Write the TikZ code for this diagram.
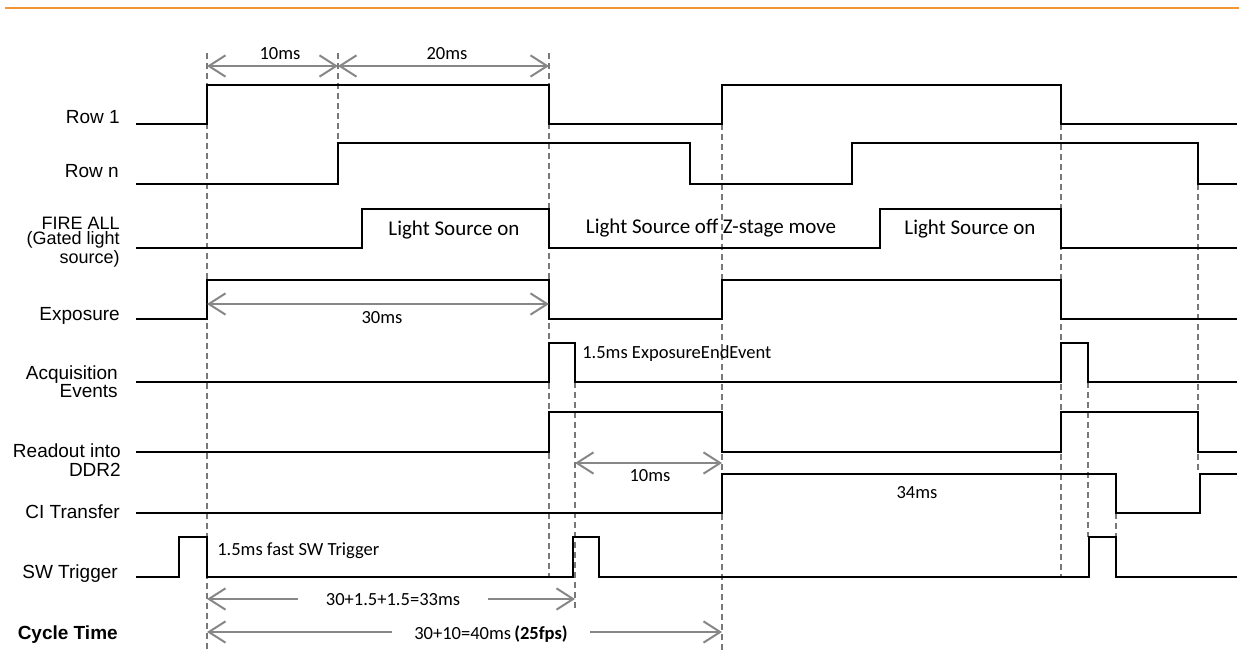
\documentclass[tikz,border=0pt]{standalone}
\usepackage{fontspec}
\setmainfont{Liberation Sans}
\newfontfamily\calib{Carlito}
\usetikzlibrary{arrows.meta}
\definecolor{topline}{RGB}{242,150,52}
\definecolor{dimgray}{RGB}{135,135,135}
\definecolor{guidegray}{RGB}{120,120,120}
\tikzset{
  sig/.style={line width=1.9pt, black, line join=miter, line cap=rect},
  guide/.style={guidegray, line width=1.1pt, dash pattern=on 4.5pt off 3pt},
  barb/.tip={Straight Barb[length=12.5pt,width=16pt,line width=1.5pt]},
  dimarrow/.style={dimgray, line width=1.5pt, {barb}-{barb}},
  lbl/.style={anchor=base east, inner sep=0pt, font=\fontsize{14.25}{15}\selectfont},
  note/.style={inner sep=0pt, font=\calib\fontsize{13.9}{15}\selectfont},
  bignote/.style={inner sep=0pt, font=\calib\fontsize{15.75}{17}\selectfont},
}
\begin{document}
\begin{tikzpicture}[x=0.75pt,y=-0.75pt]
\path[use as bounding box] (0,0) rectangle (1239,650);
% top orange rule
\draw[topline, line width=1.9pt] (5,8) -- (1239,8);

% dashed guides
\draw[guide] (207,53) -- (207,650);
\draw[guide] (338,53) -- (338,143);
\draw[guide] (549,53) -- (549,577);
\draw[guide] (575,382) -- (575,608);
\draw[guide] (722,124) -- (722,650);
\draw[guide] (1061,124) -- (1061,577);
\draw[guide] (1088,382) -- (1088,537);
\draw[guide] (1116,513) -- (1116,537);
\draw[guide] (1198,184) -- (1198,474);

% signals
\draw[sig] (137,124) -- (207,124) -- (207,85) -- (549,85) -- (549,124) -- (722,124) -- (722,85) -- (1061,85) -- (1061,124) -- (1236,124);
\draw[sig] (137,184) -- (338,184) -- (338,143) -- (690,143) -- (690,184) -- (852,184) -- (852,143) -- (1198,143) -- (1198,184) -- (1236,184);
\draw[sig] (137,248) -- (362,248) -- (362,209) -- (549,209) -- (549,248) -- (880,248) -- (880,209) -- (1061,209) -- (1061,248) -- (1236,248);
\draw[sig] (137,319) -- (207,319) -- (207,280) -- (549,280) -- (549,319) -- (722,319) -- (722,280) -- (1061,280) -- (1061,319) -- (1236,319);
\draw[sig] (137,382) -- (549,382) -- (549,343) -- (575,343) -- (575,382) -- (1061,382) -- (1061,343) -- (1088,343) -- (1088,382) -- (1236,382);
\draw[sig] (137,452) -- (549,452) -- (549,412) -- (722,412) -- (722,452) -- (1061,452) -- (1061,412) -- (1198,412) -- (1198,452) -- (1236,452);
\draw[sig] (137,513) -- (722,513) -- (722,474) -- (1116,474) -- (1116,513) -- (1200,513) -- (1200,474) -- (1236,474);
\draw[sig] (137,577) -- (179,577) -- (179,537) -- (207,537) -- (207,577) -- (573,577) -- (573,537) -- (599,537) -- (599,577) -- (1089,577) -- (1089,537) -- (1116,537) -- (1116,577) -- (1236,577);

% row labels
\node[lbl] (r1) at (120,123) {Row 1};
\node[lbl] (rn) at (119,177) {Row n};
\node[lbl, align=right, font=\fontsize{13.5}{11.25}\selectfont] (fa) at (120,263) {FIRE ALL\\(Gated light\\source)};
\node[lbl] (ex) at (120,320) {Exposure};
\node[lbl] (aq1) at (118,379) {Acquisition};
\node[lbl] (aq2) at (118,397) {Events};
\node[lbl] (ro1) at (121,457) {Readout into};
\node[lbl] (ro2) at (121,476) {DDR2};
\node[lbl] (ci) at (120,518) {CI Transfer};
\node[lbl] (sw) at (118,578) {SW Trigger};
\node[lbl, font=\bfseries\fontsize{14.25}{15}\selectfont] (ct) at (118,639) {Cycle Time};

% dimension arrows
\coordinate (t0) at (207,66);
\coordinate (t1) at (338,66);
\coordinate (t2) at (549,66);
\draw[dimarrow] (t0) -- (t1);
\draw[dimarrow] (t1) -- (t2);
\node[note] (d10) at (280,54) {10ms};
\node[note] (d20) at (447,54) {20ms};

\coordinate (e0) at (207,304);
\coordinate (e1) at (549,304);
\draw[dimarrow] (e0) -- (e1);
\node[note] (d30) at (382,318) {30ms};

\coordinate (r0) at (575,463);
\coordinate (rr) at (722,463);
\draw[dimarrow] (r0) -- (rr);
\node[note] (d10b) at (650,476) {10ms};

\node[note] (d34) at (917,493) {34ms};

\coordinate (c0) at (207,599);
\coordinate (c1) at (575,599);
\draw[dimarrow] (c0) -- (c1);
\node[note, fill=white, minimum width=143pt, minimum height=14pt] (d33) at (393,600) {30+1.5+1.5=33ms};

\coordinate (f0) at (207,632);
\coordinate (f1) at (722,632);
\draw[dimarrow] (f0) -- (f1);
\node[note, fill=white, minimum width=148pt, minimum height=14pt] (d40) at (491,634) {30+10=40ms\,\textbf{(25fps)}};

% annotations
\node[bignote] (ls1) at (454,230) {Light Source on};
\node[bignote] (ls2) at (711,228) {Light Source off Z-stage move};
\node[bignote] (ls3) at (970,229) {Light Source on};
\node[note, anchor=west] (aev) at (582,354) {1.5ms ExposureEndEvent};
\node[note, anchor=west] (swt) at (217,551) {1.5ms fast SW Trigger};
\end{tikzpicture}
\end{document}
